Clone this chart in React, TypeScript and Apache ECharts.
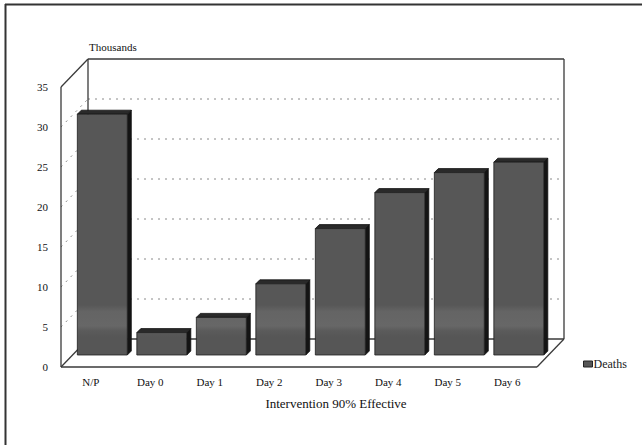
import React, { useEffect, useRef } from "react";
import * as echarts from "echarts";

const categories = ["N/P", "Day 0", "Day 1", "Day 2", "Day 3", "Day 4", "Day 5", "Day 6"];
const deaths = [30.1, 2.8, 4.7, 8.9, 15.8, 20.3, 22.8, 24.1];
const yTicks = [0, 5, 10, 15, 20, 25, 30, 35];
const seriesName = "Deaths";
const xTitle = "Intervention 90% Effective";
const yUnit = "Thousands";

const DEPTH_X = 27;
const DEPTH_Y = -28;
const BAR_DEPTH_FRAC = 12 / 28;
const BAR_THICK = 4;
const BAR_WIDTH_FRAC = 0.84;
const FONT = "'Liberation Serif', 'Times New Roman', serif";

export default function App() {
  const ref = useRef<HTMLDivElement>(null);
  useEffect(() => {
    document.body.style.margin = "0";
    const chart = echarts.init(ref.current as HTMLDivElement, null, { renderer: "svg" });
    const yMin = yTicks[0];
    const yMax = yTicks[yTicks.length - 1];
    const yStep = yTicks[1] - yTicks[0];

    const line = (x1: number, y1: number, x2: number, y2: number, style: any) => ({
      type: "line",
      shape: { x1, y1, x2, y2 },
      style,
    });

    const frameSeries = {
      type: "custom",
      name: "frame",
      silent: true,
      z: 1,
      data: [[0, yMin]],
      encode: { x: 0, y: 1 },
      renderItem: (params: any, api: any) => {
        const cs = params.coordSys;
        const L = cs.x, R = cs.x + cs.width, T = cs.y, B = cs.y + cs.height;
        const bL = L + DEPTH_X, bR = R + DEPTH_X, bT = T + DEPTH_Y, bB = B + DEPTH_Y;
        const solid = { stroke: "#3a3a3a", lineWidth: 1.3 };
        const dotted = { stroke: "#8a8a8a", lineWidth: 1, lineDash: [2, 5] };
        const children: any[] = [];
        yTicks.slice(1, -1).forEach((v) => {
          const y = api.coord([0, v])[1];
          children.push(line(bL, y + DEPTH_Y, bR, y + DEPTH_Y, dotted));
          children.push(line(L, y, bL, y + DEPTH_Y, dotted));
        });
        children.push(
          line(L, T, L, B, solid),
          line(L, T, bL, bT, solid),
          line(bL, bT, bR, bT, solid),
          line(bR, bT, bR, bB, solid),
          line(bL, bT, bL, bB, solid),
          line(bL, bB, bR, bB, solid),
          line(L, B, bL, bB, solid),
          line(L, B, R, B, solid),
          line(R, B, bR, bB, solid)
        );
        return { type: "group", children };
      },
    };

    const barsSeries = {
      type: "custom",
      name: seriesName,
      z: 2,
      itemStyle: { color: "#565656" },
      encode: { x: 0, y: 1 },
      data: deaths.map((v, i) => [i, v]),
      renderItem: (params: any, api: any) => {
        const i = api.value(0);
        const v = api.value(1);
        const top = api.coord([i, v]);
        const base = api.coord([i, 0]);
        const cw = api.size([1, 0])[0];
        const bw = cw * BAR_WIDTH_FRAC;
        const sx = DEPTH_X * BAR_DEPTH_FRAC;
        const sy = DEPTH_Y * BAR_DEPTH_FRAC;
        const x0 = top[0] + sx - bw / 2;
        const x1 = x0 + bw;
        const yT = top[1] + sy;
        const yB = base[1] + sy;
        const t = BAR_THICK;
        const face = new echarts.graphic.LinearGradient(
          0,
          yB - 50,
          0,
          yB - 18,
          [
            { offset: 0, color: "#575757" },
            { offset: 0.2, color: "#646464" },
            { offset: 0.65, color: "#676767" },
            { offset: 0.8, color: "#5b5b5b" },
            { offset: 1, color: "#565656" },
          ],
          true
        );
        return {
          type: "group",
          children: [
            {
              type: "polygon",
              shape: { points: [[x1, yT], [x1 + t, yT - t], [x1 + t, yB - t], [x1, yB]] },
              style: { fill: "#141414", stroke: "#111", lineWidth: 0.8 },
            },
            {
              type: "polygon",
              shape: { points: [[x0, yT], [x0 + t, yT - t], [x1 + t, yT - t], [x1, yT]] },
              style: { fill: "#2a2a2a", stroke: "#111", lineWidth: 0.8 },
            },
            {
              type: "rect",
              shape: { x: x0, y: yT, width: bw, height: yB - yT },
              style: { fill: face, stroke: "#1e1e1e", lineWidth: 0.8 },
            },
          ],
        };
      },
    };

    chart.setOption({
      animation: false,
      backgroundColor: "#ffffff",
      grid: { left: 61, top: 87, width: 476, height: 280 },
      xAxis: {
        type: "category",
        data: categories,
        boundaryGap: true,
        axisLine: { show: false },
        axisTick: { show: false },
        splitLine: { show: false },
        axisLabel: { margin: 9, fontFamily: FONT, fontSize: 11, color: "#111" },
      },
      yAxis: {
        type: "value",
        min: yMin,
        max: yMax,
        interval: yStep,
        axisLine: { show: false },
        axisTick: { show: false },
        splitLine: { show: false },
        axisLabel: { margin: 13, fontFamily: FONT, fontSize: 11, color: "#111" },
      },
      legend: {
        data: [{ name: seriesName, icon: "rect" }],
        left: 578,
        top: 353,
        itemWidth: 9,
        itemHeight: 6,
        itemGap: 0,
        selectedMode: false,
        itemStyle: { borderColor: "#222", borderWidth: 1 },
        textStyle: { fontFamily: FONT, fontSize: 12, color: "#222", padding: [0, 0, 0, -4] },
      },
      graphic: [
        { type: "line", shape: { x1: 5, y1: 4.5, x2: 642, y2: 4.5 }, style: { stroke: "#333", lineWidth: 2 } },
        { type: "line", shape: { x1: 5.5, y1: 4, x2: 5.5, y2: 445 }, style: { stroke: "#333", lineWidth: 2 } },
        {
          type: "text",
          x: 89,
          y: 47,
          style: { text: yUnit, fontFamily: FONT, fontSize: 11, fill: "#111", verticalAlign: "middle" },
        },
        {
          type: "text",
          x: 336,
          y: 403,
          style: {
            text: xTitle,
            fontFamily: FONT,
            fontSize: 13,
            fill: "#111",
            align: "center",
            verticalAlign: "middle",
          },
        },
      ],
      series: [frameSeries, barsSeries],
    });
    return () => chart.dispose();
  }, []);
  return <div ref={ref} style={{ position: "absolute", left: 0, top: 0, width: 642, height: 445 }} />;
}
